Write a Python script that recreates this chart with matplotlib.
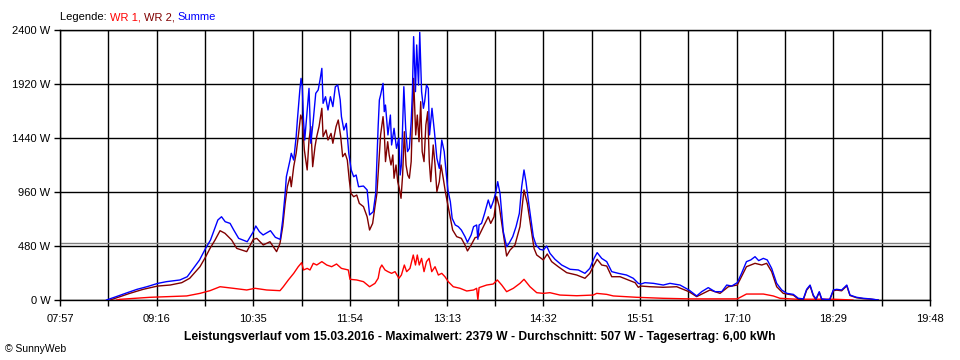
import matplotlib
matplotlib.use("Agg")
import matplotlib.pyplot as plt

plt.rcParams['font.family'] = ['Liberation Sans', 'DejaVu Sans']

# time in minutes since midnight, power in W
t_summe = [515, 523, 532, 540, 548, 557, 564, 575, 581, 586, 591, 596, 600, 604, 606, 609, 612, 616, 619, 623, 630, 635, 637, 640, 643, 649, 653, 657,
           659, 661, 662, 665, 666, 668, 670, 671, 673, 674, 675, 676, 677, 679, 680.5, 682, 684, 686, 688, 689.5, 691, 692, 694, 696, 698, 700, 702, 704, 706, 707, 709, 711, 713, 715, 717, 719, 721, 725, 728, 730, 733, 735, 736, 737, 738,
           739, 741, 742, 743, 745, 747, 748, 750, 752, 754, 755, 756, 758, 759.5, 761, 762.5, 764, 765, 766, 767.5, 768.5, 770, 771, 772.5, 774, 775, 776.5, 778, 779, 781, 783, 785, 787, 789, 791, 792.5, 794, 796, 797.5, 800, 802.5, 805, 808, 810, 813, 815, 817.5, 818.5, 819.5, 821.5, 824, 827, 829, 831, 833, 834.7, 836.6, 838, 839.3, 842, 844, 847, 849.7, 852.4, 854.3, 856.2, 857.8, 859.7, 861.9, 863.8, 866, 869.3, 872, 874.7, 877.4, 881.5, 887, 893.8, 900.6, 906, 910, 913.4, 916, 919.7, 923.8, 927.9, 933.3, 940, 945.5, 949.6, 951.8, 955, 962, 970, 975.5, 983.7, 991, 997.3, 1001.4, 1006.8, 1012.3, 1017.8, 1021.9, 1025.9, 1030.5, 1034, 1038, 1041.5, 1045, 1048, 1051.8, 1055, 1058.6, 1062.7, 1066.8, 1071, 1076.3, 1080.4, 1084.5, 1087.2, 1090, 1092.6, 1094.8, 1097.5, 1099.5, 1103.6, 1106, 1109, 1111.7, 1115.8, 1120, 1122.6, 1128, 1133.5, 1139, 1145.7]
summe = [0, 30, 65, 95, 118, 148, 163, 178, 207, 281, 355, 459, 533, 652, 711, 740, 696, 681, 622, 548, 518, 607, 658, 607, 578, 616, 557, 539,
         711, 948, 1096, 1244, 1304, 1244, 1452, 1600, 1867, 1970, 1896, 1600, 1422, 1689, 1881, 1393, 1600, 1837, 1867, 1956, 2059, 1748, 1807, 1689, 1807, 1719, 1896, 1911, 1778, 1630, 1511, 1570, 1304, 1156, 1096, 1111, 1007, 1013, 978, 756, 785, 948, 1244, 1541, 1778,
         1822, 1926, 1674, 1733, 1467, 1644, 1378, 1526, 1348, 1437, 1111, 1200, 1896, 1526, 1319, 1348, 1585, 1852, 2341, 1852, 2267, 1911, 2379, 1852, 1704, 1763, 1911, 1881, 1467, 1704, 1496, 1259, 1170, 1422, 1319, 1141, 978, 874, 726, 667, 652, 622, 563, 513, 578, 652, 667, 540, 667, 681, 770, 889, 815, 874, 948, 1052, 948, 770, 607, 474, 504, 563, 652, 770, 1007, 1156, 1052, 889, 711, 563, 489, 450, 444, 480, 415, 362, 311, 273, 267, 237, 281, 370, 421, 370, 341, 252, 237, 222, 193, 148, 142, 154, 148, 133, 148, 133, 89, 36, 74, 110, 74, 74, 133, 124, 154, 237, 341, 356, 385, 350, 370, 356, 281, 148, 89, 59, 50, 15, 10, 95, 133, 44, 10, 74, 10, 5, 5, 89, 95, 89, 133, 44, 24, 15, 10, 0]

t_wr2 = [518, 526, 534, 545, 556.8, 567, 576.5, 583, 591.4, 596.1, 599.6, 603.7, 607.8, 611.8, 617.3, 621.4, 629.6, 635, 637.8, 643.1, 648.6, 654, 656.8,
         659, 661, 662.8, 665, 666, 668, 670, 671.7, 673.7, 675, 676.7, 679, 680.5, 682, 683.5, 685.4, 686.8, 688.7, 691, 692, 694.4, 696, 698.5, 700, 702.6, 704.4, 706.4, 708, 710, 711.8, 713.4, 714.8, 717, 719.5, 721.6, 725, 728, 730, 732.5, 734.4, 736, 738,
         739, 741, 742, 743, 744.8, 746, 747.5, 749, 750, 751.6, 753, 754.3, 755.7, 757, 758.4, 759.8, 761.2, 762.5, 764, 765, 766, 767.7, 769, 770.4, 771.8, 773, 774.5, 776, 777.5, 778.8, 780, 782, 783.5, 785, 787, 788.4, 790.2, 791.9, 794, 796, 797.9, 801.2, 805, 808, 810, 813, 816.2, 819, 823, 827, 829, 831.7, 833.9, 836, 838.8, 842, 844.8, 848.8, 852.9, 856.2, 858.9, 861.7, 864.4, 866.6, 872, 875.2, 878.8, 884.2, 891.1, 899.3, 906, 910, 913.4, 916, 919.7, 923.8, 927.9, 934.7, 941.4, 947, 949.6, 951.8, 959.2, 970, 981, 991, 997.3, 1008.2, 1016.4, 1023.2, 1030.5, 1038, 1045, 1050.5, 1054.5, 1058.6, 1062.7, 1068.1, 1076.3, 1080.4, 1084.5, 1087.2, 1090, 1092.6, 1094.8, 1097.5, 1099.5, 1103.6, 1106, 1109, 1111.7, 1115.8, 1120, 1122.6, 1128, 1133.5, 1139, 1145.7]
wr2 = [0, 30, 59, 95, 124, 133, 154, 193, 296, 385, 459, 533, 616, 593, 533, 459, 430, 539, 548, 489, 518, 430, 504,
       652, 859, 1007, 1096, 1007, 1185, 1304, 1452, 1644, 1600, 1333, 1156, 1422, 1541, 1185, 1363, 1452, 1541, 1704, 1452, 1511, 1422, 1481, 1393, 1541, 1600, 1452, 1274, 1304, 1244, 1067, 948, 918, 933, 859, 830, 740, 622, 681, 830, 948, 1304,
       1467, 1630, 1496, 1230, 1407, 1289, 1200, 1289, 1082, 1200, 1052, 993, 904, 1111, 1496, 1200, 1111, 1082, 1230, 1585, 1970, 1467, 1644, 1407, 1763, 1319, 1230, 1556, 1674, 1230, 1052, 1378, 1200, 963, 1052, 1200, 1082, 963, 844, 726, 622, 563, 548, 489, 436, 489, 554, 563, 652, 740, 681, 740, 918, 830, 622, 391, 444, 489, 652, 978, 859, 652, 459, 400, 356, 409, 341, 296, 243, 222, 193, 237, 311, 362, 311, 302, 207, 207, 178, 154, 113, 124, 118, 113, 118, 74, 30, 89, 59, 118, 133, 296, 326, 311, 326, 252, 118, 59, 43, 8, 3, 88, 126, 37, 3, 67, 3, 0, 0, 82, 88, 82, 126, 40, 20, 12, 8, 0]

t_wr1 = [523.3, 526, 550.6, 580.5, 591.4, 599.6, 607.8, 618.6, 629.6, 636.4, 645.9, 656.8, 659.5, 663.6, 668, 671.7, 674.5, 676, 679, 681.3, 684, 686.8, 691, 695, 699, 703, 707, 712.6, 714, 719.5, 725, 730, 734.4, 737, 738.5,
         740, 742.6, 745, 748, 750.8, 754, 756, 758.4, 760.3, 763, 765.7, 767.5, 769, 770.6, 772.5, 774.5, 776.5, 778.6, 780.8, 783.5, 786.2, 789, 791.6, 794.3, 798.4, 803.9, 809.4, 815, 817.5, 818.5, 819.5, 825.7, 831, 834.4, 838, 842, 847.5, 852.9, 856.2, 861.1, 866.6, 872, 877.4, 885.6, 899.3, 912.8, 915.6, 923.8, 929.2, 948.3, 970, 991, 1030.5, 1034, 1038, 1051.8, 1059.9, 1065.4, 1079.1, 1109, 1125]
wr1 = [0, 6, 24, 36, 59, 83, 118, 104, 89, 104, 89, 83, 118, 178, 237, 296, 332, 267, 281, 267, 326, 311, 341, 311, 296, 320, 281, 267, 184, 178, 163, 118, 148, 193, 281,
       311, 267, 252, 237, 252, 193, 222, 311, 252, 281, 400, 311, 400, 311, 370, 252, 341, 370, 252, 296, 222, 237, 207, 163, 118, 104, 80, 89, 104, 0, 110, 133, 142, 178, 133, 74, 104, 148, 184, 118, 65, 59, 65, 44, 38, 44, 59, 50, 36, 24, 15, 10, 10, 30, 53, 53, 36, 15, 7, 7, 0]

mittelwert = 507
x_ticks = [477 + 39.5 * k for k in range(19)]
x_labels = ["07:57", "", "09:16", "", "10:35", "", "11:54", "", "13:13", "", "14:32", "", "15:51", "", "17:10", "", "18:29", "", "19:48"]
y_ticks = [0, 480, 960, 1440, 1920, 2400]
y_labels = ["0 W", "480 W", "960 W", "1440 W", "1920 W", "2400 W"]
title = "Leistungsverlauf vom 15.03.2016 - Maximalwert: 2379 W - Durchschnitt: 507 W - Tagesertrag: 6,00 kWh"

fig = plt.figure(figsize=(9.6, 3.6), dpi=100, facecolor='white')
ax = fig.add_axes([60/960, 60/360, 870/960, 270/360])
ax.set_xlim(477, 1188)
ax.set_ylim(0, 2400)
ax.set_xticks(x_ticks)
ax.set_xticklabels(x_labels)
ax.set_yticks(y_ticks)
ax.set_yticklabels(y_labels)
ax.grid(True, color='black', linewidth=1.0)
ax.set_axisbelow(True)
for s in ax.spines.values():
    s.set_color('black')
    s.set_linewidth(1.0)
ax.tick_params(axis='both', length=4, width=1.0, color='black', labelsize=8, labelcolor='black')
ax.tick_params(axis='x', pad=6)
ax.tick_params(axis='y', pad=3)

ax.axhline(mittelwert, color='#808080', linewidth=1.0, zorder=1.5)
ax.plot(t_wr1, wr1, color='#FF0000', linewidth=1.0, zorder=3)
ax.plot(t_wr2, wr2, color='#800000', linewidth=1.0, zorder=3)
ax.plot(t_summe, summe, color='#0000FF', linewidth=1.0, zorder=3)

t1 = fig.text(60/960, 1 - 17/360, "Legende: ", fontsize=8, color='black', va='center', ha='left')
t2 = ax.annotate("WR 1, ", xy=(1, 0), xycoords=t1, va='bottom', ha='left', fontsize=8, color='#FF0000', annotation_clip=False)
t3 = ax.annotate("WR 2, ", xy=(1, 0), xycoords=t2, va='bottom', ha='left', fontsize=8, color='#800000', annotation_clip=False)
t4 = ax.annotate("Summe", xy=(1, 0), xycoords=t3, va='bottom', ha='left', fontsize=8, color='#0000FF', annotation_clip=False)

fig.text(480/960, 1 - 337/360, title, fontsize=8.7, fontweight='bold', ha='center', va='center')
fig.text(5/960, 1 - 349/360, "© SunnyWeb", fontsize=7.5, ha='left', va='center')

fig.savefig("out.png", dpi=100, facecolor='white')
